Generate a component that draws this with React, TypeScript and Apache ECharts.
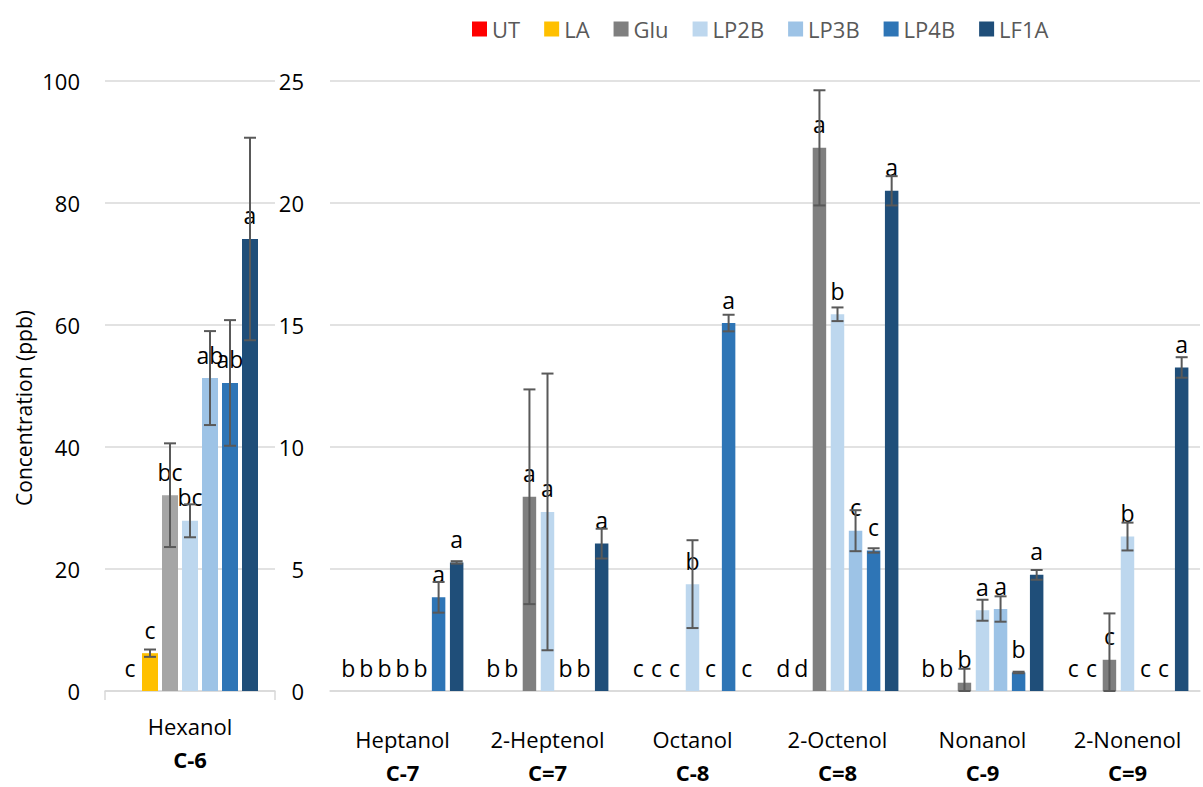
import React, { useEffect, useRef } from "react";
import * as echarts from "echarts";

const seriesNames = ["UT", "LA", "Glu", "LP2B", "LP3B", "LP4B", "LF1A"];
const colorsRight = ["#FF0000", "#FFC000", "#7F7F7F", "#BDD7EE", "#9DC3E6", "#2E75B6", "#1F4E79"];
const colorsLeft = ["#FF0000", "#FFC000", "#A5A5A5", "#BDD7EE", "#9DC3E6", "#2E75B6", "#1F4E79"];

const categoriesLeft = ["Hexanol"];
const groupLeft = ["C-6"];
const categoriesRight = ["Heptanol", "2-Heptenol", "Octanol", "2-Octenol", "Nonanol", "2-Nonenol"];
const groupRight = ["C-7", "C=7", "C-8", "C=8", "C-9", "C=9"];

const yTitle = "Concentration (ppb)";
const leftTicks = { min: 0, max: 100, interval: 20 };
const rightTicks = { min: 0, max: 25, interval: 5 };

// Hexanol panel, one value per series (UT, LA, Glu, LP2B, LP3B, LP4B, LF1A)
const hexanolMeans = [0, 6.2, 32.1, 27.9, 51.3, 50.5, 74.1];
const hexanolErr = [0, 0.6, 8.5, 2.7, 7.7, 10.3, 16.6];
const hexanolLetters = ["c", "c", "bc", "bc", "ab", "ab", "a"];

// Right panel, one value per category
const meansUT = [0, 0, 0, 0, 0, 0];
const meansLA = [0, 0, 0, 0, 0, 0];
const meansGlu = [0, 7.96, 0, 22.26, 0.34, 1.28];
const meansLP2B = [0, 7.34, 4.38, 15.44, 3.31, 6.33];
const meansLP3B = [0, 0, 0, 6.57, 3.36, 0];
const meansLP4B = [3.84, 0, 15.08, 5.76, 0.76, 0];
const meansLF1A = [5.27, 6.04, 0, 20.5, 4.76, 13.26];

const errUT = [0, 0, 0, 0, 0, 0];
const errLA = [0, 0, 0, 0, 0, 0];
const errGlu = [0, 4.4, 0, 2.36, 0.57, 1.9];
const errLP2B = [0, 5.67, 1.8, 0.28, 0.43, 0.57];
const errLP3B = [0, 0, 0, 0.84, 0.52, 0];
const errLP4B = [0.63, 0, 0.34, 0.09, 0.03, 0];
const errLF1A = [0.05, 0.61, 0, 0.6, 0.2, 0.42];

const lettersUT = ["b", "b", "c", "d", "b", "c"];
const lettersLA = ["b", "b", "c", "d", "b", "c"];
const lettersGlu = ["b", "a", "c", "a", "b", "c"];
const lettersLP2B = ["b", "a", "b", "b", "a", "b"];
const lettersLP3B = ["b", "b", "c", "c", "a", "c"];
const lettersLP4B = ["a", "b", "a", "c", "b", "c"];
const lettersLF1A = ["a", "a", "c", "a", "a", "a"];

const rightMeans = [meansUT, meansLA, meansGlu, meansLP2B, meansLP3B, meansLP4B, meansLF1A];
const rightErr = [errUT, errLA, errGlu, errLP2B, errLP3B, errLP4B, errLF1A];
const rightLetters = [lettersUT, lettersLA, lettersGlu, lettersLP2B, lettersLP3B, lettersLP4B, lettersLF1A];

const FONT = "Open Sans";

function makeErrorRender(catGapPct: number, barGapPct: number, n: number) {
  return (params: any, api: any) => {
    const cat = api.value(0);
    const v = api.value(1);
    const e = api.value(2);
    const si = api.value(3);
    if (!(e > 0)) return null;
    const bandW = api.size([1, 0])[0];
    const avail = bandW * (1 - catGapPct);
    const w = avail / (n + (n - 1) * barGapPct);
    const cx = api.coord([cat, 0])[0] - avail / 2 + si * w * (1 + barGapPct) + w / 2;
    const yTop = api.coord([cat, v + e])[1];
    const yBot = api.coord([cat, Math.max(0, v - e)])[1];
    const hw = 6;
    const style = { stroke: "#595959", lineWidth: 2 };
    return {
      type: "group",
      children: [
        { type: "line", shape: { x1: cx, y1: yTop, x2: cx, y2: yBot }, style },
        { type: "line", shape: { x1: cx - hw, y1: yTop, x2: cx + hw, y2: yTop }, style },
        { type: "line", shape: { x1: cx - hw, y1: yBot, x2: cx + hw, y2: yBot }, style },
      ],
    };
  };
}

const LEFT_CAT_GAP = 0.2;
const LEFT_BAR_GAP = 0.25;
const RIGHT_CAT_GAP = 0.16;
const RIGHT_BAR_GAP = 0.34;

export default function App() {
  const ref = useRef<HTMLDivElement>(null);
  useEffect(() => {
    if (!ref.current) return;
    const chart = echarts.init(ref.current, undefined, { renderer: "svg" });

    const labelStyle = { show: true, position: "top", distance: 12, color: "#000", fontSize: 23, fontFamily: FONT };

    const series: any[] = [];
    seriesNames.forEach((name, si) => {
      series.push({
        name,
        type: "bar",
        xAxisIndex: 2,
        yAxisIndex: 1,
        data: rightMeans[si],
        itemStyle: { color: colorsRight[si] },
        barCategoryGap: RIGHT_CAT_GAP * 100 + "%",
        barGap: RIGHT_BAR_GAP * 100 + "%",
        label: { ...labelStyle, formatter: (p: any) => rightLetters[si][p.dataIndex] },
      });
    });
    seriesNames.forEach((name, si) => {
      series.push({
        name,
        type: "bar",
        xAxisIndex: 0,
        yAxisIndex: 0,
        data: [hexanolMeans[si]],
        itemStyle: { color: colorsLeft[si] },
        barCategoryGap: LEFT_CAT_GAP * 100 + "%",
        barGap: LEFT_BAR_GAP * 100 + "%",
        label: { ...labelStyle, formatter: () => hexanolLetters[si] },
      });
    });

    const leftErrData: any[] = seriesNames.map((_, si) => [0, hexanolMeans[si], hexanolErr[si], si]);
    const rightErrData: any[] = [];
    seriesNames.forEach((_, si) => {
      categoriesRight.forEach((_c, ci) => {
        rightErrData.push([ci, rightMeans[si][ci], rightErr[si][ci], si]);
      });
    });
    series.push({
      name: "errLeft",
      type: "custom",
      xAxisIndex: 0,
      yAxisIndex: 0,
      z: 5,
      encode: { x: 0, y: 1 },
      data: leftErrData,
      renderItem: makeErrorRender(LEFT_CAT_GAP, LEFT_BAR_GAP, seriesNames.length),
    });
    series.push({
      name: "errRight",
      type: "custom",
      xAxisIndex: 2,
      yAxisIndex: 1,
      z: 5,
      encode: { x: 0, y: 1 },
      data: rightErrData,
      renderItem: makeErrorRender(RIGHT_CAT_GAP, RIGHT_BAR_GAP, seriesNames.length),
    });

    const splitLine = { show: true, lineStyle: { color: "#D9D9D9", width: 1.5 } };
    const axisLabelStyle = { color: "#000", fontSize: 22, fontFamily: FONT };

    chart.setOption({
      animation: false,
      textStyle: { fontFamily: FONT },
      legend: {
        left: 467,
        top: 13,
        itemWidth: 15,
        itemHeight: 15,
        itemGap: 24,
        icon: "rect",
        textStyle: { color: "#595959", fontSize: 22, fontFamily: FONT },
        data: seriesNames.map((n, i) => ({ name: n, itemStyle: { color: colorsRight[i] } })),
      },
      graphic: [
        {
          type: "text",
          x: 24,
          y: 408,
          rotation: Math.PI / 2,
          style: {
            text: yTitle,
            fill: "#000",
            fontSize: 21,
            fontFamily: FONT,
            align: "center",
            verticalAlign: "middle",
          },
        },
      ],
      grid: [
        { left: 105, top: 81, width: 170, height: 610 },
        { left: 330, top: 81, width: 870, height: 610 },
      ],
      xAxis: [
        {
          type: "category",
          gridIndex: 0,
          data: categoriesLeft,
          axisLine: { show: true, lineStyle: { color: "#D9D9D9", width: 1.5 } },
          axisTick: { show: true, length: 9, lineStyle: { color: "#D9D9D9", width: 1.5 } },
          axisLabel: { ...axisLabelStyle, margin: 24 },
        },
        {
          type: "category",
          gridIndex: 0,
          data: groupLeft,
          position: "bottom",
          offset: 50,
          axisLine: { show: false },
          axisTick: { show: false },
          axisLabel: { ...axisLabelStyle, fontSize: 22, fontWeight: "bold", margin: 7 },
        },
        {
          type: "category",
          gridIndex: 1,
          data: categoriesRight,
          axisLine: { show: true, lineStyle: { color: "#D9D9D9", width: 1.5 } },
          axisTick: { show: false },
          axisLabel: { ...axisLabelStyle, margin: 37, interval: 0 },
        },
        {
          type: "category",
          gridIndex: 1,
          data: groupRight,
          position: "bottom",
          offset: 63,
          axisLine: { show: false },
          axisTick: { show: false },
          axisLabel: { ...axisLabelStyle, fontSize: 22, fontWeight: "bold", margin: 7, interval: 0 },
        },
      ],
      yAxis: [
        {
          type: "value",
          gridIndex: 0,
          ...leftTicks,
          axisLine: { show: false },
          axisTick: { show: false },
          splitLine,
          axisLabel: { ...axisLabelStyle, margin: 25 },
        },
        {
          type: "value",
          gridIndex: 1,
          ...rightTicks,
          axisLine: { show: false },
          axisTick: { show: false },
          splitLine,
          axisLabel: { ...axisLabelStyle, margin: 26 },
        },
      ],
      series,
    });
    return () => chart.dispose();
  }, []);
  return (
    <div
      ref={ref}
      style={{ position: "fixed", left: 0, top: 0, width: 1203, height: 787, background: "#fff" }}
    />
  );
}
